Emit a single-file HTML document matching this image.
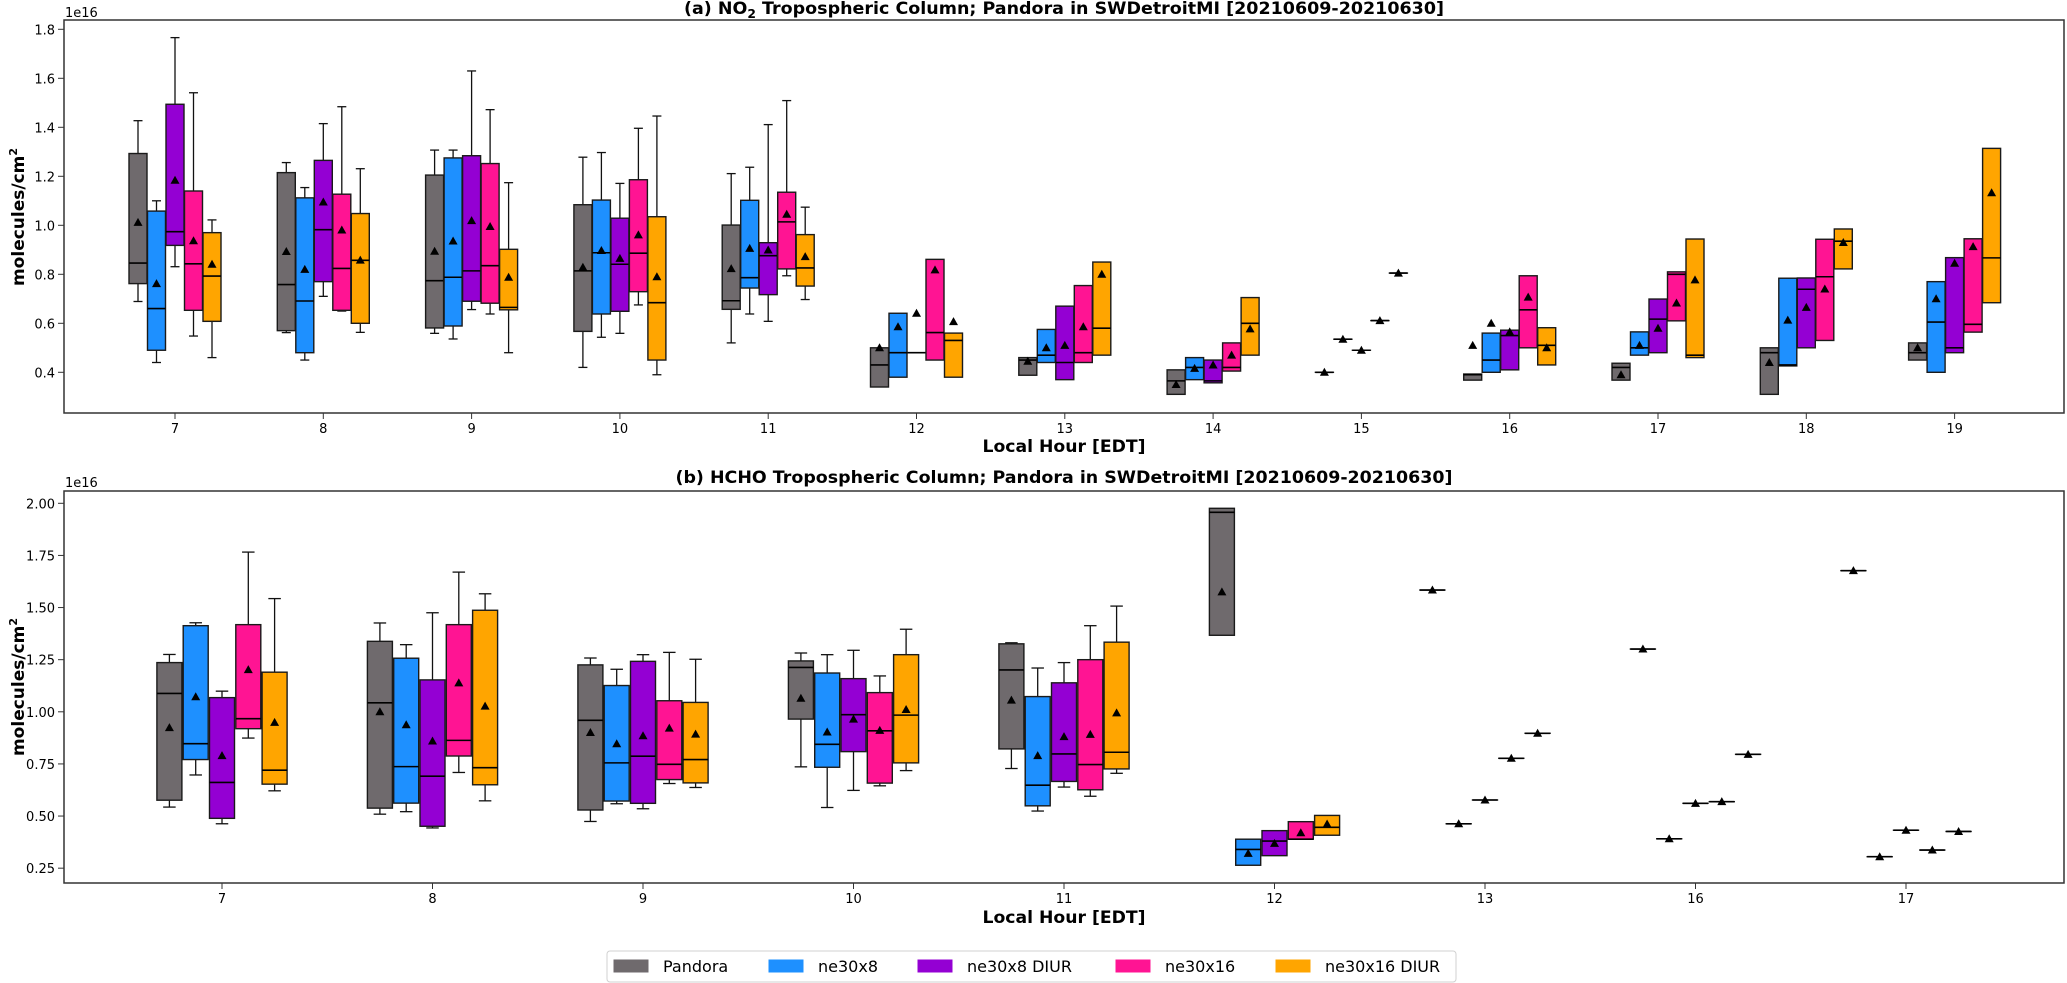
<!DOCTYPE html>
<html><head><meta charset="utf-8">
<style>
html,body{margin:0;padding:0;background:#fff;}
svg{display:block;font-family:"DejaVu Sans","Liberation Sans",sans-serif;}
</style></head>
<body>
<svg id="chart" width="2067" height="983" viewBox="0 0 2067 983" xmlns="http://www.w3.org/2000/svg">
  <rect x="0" y="0" width="2067" height="983" fill="#fff"/>
  <g id="panelA">
    <text x="1064" y="14" text-anchor="middle" font-size="17" font-weight="bold" textLength="760" lengthAdjust="spacingAndGlyphs">(a) NO<tspan font-size="12" dy="4">2</tspan><tspan dy="-4"> Tropospheric Column; Pandora in SWDetroitMI [20210609-20210630]</tspan></text>
    <text x="65" y="17" font-size="13">1e16</text>
    <text transform="translate(24,217) rotate(-90)" text-anchor="middle" font-size="17" font-weight="bold">molecules/cm<tspan font-size="11" dy="-7">2</tspan></text>
    <text x="1064" y="452" text-anchor="middle" font-size="17" font-weight="bold" textLength="163" lengthAdjust="spacingAndGlyphs">Local Hour [EDT]</text>
  </g>
  <g id="panelB">
    <text x="1064" y="483" text-anchor="middle" font-size="17" font-weight="bold" textLength="777" lengthAdjust="spacingAndGlyphs">(b) HCHO Tropospheric Column; Pandora in SWDetroitMI [20210609-20210630]</text>
    <text x="65" y="487" font-size="13">1e16</text>
    <text transform="translate(24,687) rotate(-90)" text-anchor="middle" font-size="17" font-weight="bold">molecules/cm<tspan font-size="11" dy="-7">2</tspan></text>
    <text x="1064" y="923" text-anchor="middle" font-size="17" font-weight="bold" textLength="163" lengthAdjust="spacingAndGlyphs">Local Hour [EDT]</text>
  </g>
  <g id="legend">
    <rect x="607" y="951" width="849" height="31" rx="3" fill="#fff" stroke="#d0d0d0" stroke-width="1"/>
  </g>
</svg>
<script>
// ---------- data ----------
const seriesNames = ["Pandora","ne30x8","ne30x8 DIUR","ne30x16","ne30x16 DIUR"];
const seriesColors = ["#6f6a6d","#1e90ff","#9400d3","#ff1493","#ffa500"];
// Panel (a) NO2: [whiskerLow, q1, median, q3, whiskerHigh, mean]
const no2Hours = [7,8,9,10,11,12,13,14,15,16,17,18,19];
const no2TickLabels = ["0.4","0.6","0.8","1.0","1.2","1.4","1.6","1.8"];
const no2TickValues = [0.4,0.6,0.8,1.0,1.2,1.4,1.6,1.8];
const no2Pandora = [[0.689,0.762,0.846,1.293,1.427,1.012],[0.562,0.570,0.758,1.215,1.256,0.893],[0.559,0.581,0.774,1.205,1.307,0.894],[0.42,0.567,0.814,1.084,1.278,0.829],[0.52,0.657,0.692,1.001,1.211,0.823],[0.34,0.34,0.43,0.50,0.50,0.50],[0.388,0.388,0.45,0.46,0.46,0.445],[0.31,0.31,0.365,0.41,0.41,0.35],[0.40,0.40,0.40,0.40,0.40,0.40],[0.368,0.368,0.39,0.393,0.393,0.51],[0.368,0.368,0.42,0.437,0.437,0.39],[0.31,0.31,0.48,0.50,0.50,0.44],[0.45,0.45,0.48,0.52,0.52,0.50]];
const no2Ne30x8 = [[0.44,0.49,0.66,1.058,1.10,0.762],[0.45,0.48,0.691,1.112,1.154,0.820],[0.536,0.589,0.788,1.275,1.307,0.936],[0.543,0.638,0.888,1.103,1.297,0.897],[0.638,0.744,0.786,1.102,1.237,0.906],[0.38,0.38,0.48,0.641,0.641,0.586],[0.44,0.44,0.47,0.575,0.575,0.50],[0.37,0.37,0.42,0.46,0.46,0.416],[0.535,0.535,0.535,0.535,0.535,0.535],[0.40,0.40,0.45,0.56,0.56,0.60],[0.47,0.47,0.50,0.565,0.565,0.51],[0.426,0.426,0.43,0.784,0.784,0.613],[0.40,0.40,0.605,0.77,0.77,0.70]];
const no2Ne30x8Diur = [[0.831,0.918,0.974,1.494,1.766,1.184],[0.710,0.770,0.982,1.265,1.415,1.095],[0.656,0.690,0.814,1.284,1.630,1.019],[0.559,0.649,0.841,1.029,1.171,0.865],[0.608,0.717,0.876,0.929,1.411,0.899],[0.48,0.48,0.48,0.48,0.48,0.641],[0.37,0.37,0.44,0.67,0.67,0.51],[0.357,0.357,0.365,0.45,0.45,0.43],[0.49,0.49,0.49,0.49,0.49,0.49],[0.41,0.41,0.55,0.572,0.572,0.565],[0.48,0.48,0.617,0.699,0.699,0.58],[0.50,0.50,0.739,0.785,0.785,0.665],[0.48,0.48,0.50,0.868,0.868,0.845]];
const no2Ne30x16 = [[0.548,0.653,0.843,1.14,1.541,0.937],[0.650,0.653,0.824,1.127,1.484,0.981],[0.638,0.682,0.835,1.252,1.472,0.995],[0.675,0.729,0.886,1.186,1.396,0.961],[0.794,0.822,1.014,1.135,1.509,1.045],[0.45,0.45,0.562,0.861,0.861,0.818],[0.44,0.44,0.48,0.754,0.754,0.586],[0.405,0.405,0.42,0.52,0.52,0.47],[0.611,0.611,0.611,0.611,0.611,0.611],[0.50,0.50,0.655,0.794,0.794,0.707],[0.61,0.61,0.80,0.81,0.81,0.683],[0.53,0.53,0.79,0.943,0.943,0.74],[0.564,0.564,0.596,0.945,0.945,0.913]];
const no2Ne30x16Diur = [[0.46,0.608,0.793,0.970,1.022,0.841],[0.563,0.600,0.857,1.048,1.231,0.858],[0.48,0.655,0.665,0.902,1.174,0.788],[0.39,0.45,0.684,1.035,1.446,0.790],[0.697,0.752,0.826,0.962,1.074,0.872],[0.38,0.38,0.53,0.56,0.56,0.607],[0.47,0.47,0.58,0.85,0.85,0.80],[0.47,0.47,0.60,0.705,0.705,0.577],[0.805,0.805,0.805,0.805,0.805,0.805],[0.43,0.43,0.51,0.582,0.582,0.50],[0.46,0.46,0.47,0.944,0.944,0.777],[0.822,0.822,0.935,0.985,0.985,0.93],[0.684,0.684,0.867,1.314,1.314,1.133]];
// Panel (b) HCHO
const hchoHours = ["7","8","9","10","11","12","13","16","17"];
const hchoTickLabels = ["0.25","0.50","0.75","1.00","1.25","1.50","1.75","2.00"];
const hchoTickValues = [0.25,0.5,0.75,1.0,1.25,1.5,1.75,2.0];
const hchoPandora = [[0.543,0.576,1.088,1.236,1.275,0.924],[0.509,0.538,1.043,1.338,1.426,1.0],[0.474,0.529,0.959,1.225,1.258,0.901],[0.736,0.965,1.213,1.244,1.282,1.065],[0.728,0.822,1.201,1.326,1.331,1.056],[1.367,1.367,1.957,1.976,1.976,1.575],[1.584,1.584,1.584,1.584,1.584,1.584],[1.301,1.301,1.301,1.301,1.301,1.301],[1.677,1.677,1.677,1.677,1.677,1.677]];
const hchoNe30x8 = [[0.697,0.771,0.847,1.413,1.427,1.072],[0.521,0.562,0.737,1.257,1.322,0.938],[0.559,0.572,0.755,1.126,1.204,0.847],[0.541,0.734,0.844,1.186,1.274,0.903],[0.524,0.549,0.648,1.073,1.210,0.790],[0.264,0.264,0.34,0.389,0.389,0.321],[0.463,0.463,0.463,0.463,0.463,0.463],[0.391,0.391,0.391,0.391,0.391,0.391],[0.305,0.305,0.305,0.305,0.305,0.305]];
const hchoNe30x8Diur = [[0.463,0.489,0.661,1.068,1.099,0.790],[0.443,0.451,0.691,1.153,1.475,0.860],[0.535,0.561,0.787,1.242,1.274,0.885],[0.623,0.809,0.986,1.159,1.295,0.965],[0.639,0.666,0.798,1.139,1.236,0.881],[0.31,0.31,0.38,0.43,0.43,0.369],[0.577,0.577,0.577,0.577,0.577,0.577],[0.561,0.561,0.561,0.561,0.561,0.561],[0.432,0.432,0.432,0.432,0.432,0.432]];
const hchoNe30x16 = [[0.874,0.919,0.967,1.418,1.766,1.202],[0.709,0.788,0.863,1.418,1.67,1.139],[0.656,0.675,0.748,1.053,1.285,0.922],[0.645,0.658,0.909,1.092,1.172,0.911],[0.595,0.626,0.747,1.25,1.413,0.892],[0.389,0.389,0.389,0.473,0.473,0.42],[0.777,0.777,0.777,0.777,0.777,0.777],[0.569,0.569,0.569,0.569,0.569,0.569],[0.337,0.337,0.337,0.337,0.337,0.337]];
const hchoNe30x16Diur = [[0.621,0.653,0.720,1.190,1.543,0.949],[0.573,0.650,0.732,1.487,1.566,1.027],[0.637,0.659,0.771,1.045,1.252,0.893],[0.718,0.755,0.984,1.274,1.396,1.011],[0.705,0.726,0.806,1.334,1.507,0.995],[0.408,0.408,0.446,0.503,0.503,0.462],[0.897,0.897,0.897,0.897,0.897,0.897],[0.796,0.796,0.796,0.796,0.796,0.796],[0.426,0.426,0.426,0.426,0.426,0.426]];

// ---------- drawing ----------
const NS = "http://www.w3.org/2000/svg";
function mk(parent, tag, attrs){
  const e = document.createElementNS(NS, tag);
  for (const k in attrs) e.setAttribute(k, attrs[k]);
  parent.appendChild(e);
  return e;
}
function drawPanel(g, cfg){
  const L=64, R=2064;
  // ticks
  cfg.tickValues.forEach((v,i)=>{
    const y = cfg.y(v);
    const t = mk(g,'line',{x1:L-6,x2:L,y1:y,y2:y,stroke:'#333','stroke-width':1});
    
    
    const tx = mk(g,'text',{x:L-9,y:y+5,'text-anchor':'end','font-size':13,fill:'#000'});
    tx.textContent = cfg.tickLabels[i];
    
    
  });
  cfg.cats.forEach((c,i)=>{
    const x = cfg.x(i);
    const t = mk(g,'line',{x1:x,x2:x,y1:cfg.bottom,y2:cfg.bottom+6,stroke:'#333','stroke-width':1});
    
    
    const tx = mk(g,'text',{x:x,y:cfg.bottom+20,'text-anchor':'middle','font-size':13,fill:'#000'});
    tx.textContent = String(c);
    
    
  });
  // boxes
  cfg.series.forEach((data,s)=>{
    const sg = mk(g,'g',{});
    
    
    data.forEach((d,i)=>{
      const cx = cfg.x(i) + (s-2)*cfg.step;
      const w = cfg.w, hw=w/2, cw=w/4;
      const [wl,q1,md,q3,wh,mn] = d;
      const yq1=cfg.y(q1), yq3=cfg.y(q3);
      const bg = mk(sg,'g',{});
      
      
      if (wh>q3){
        mk(bg,'line',{x1:cx,x2:cx,y1:yq3,y2:cfg.y(wh),stroke:'#111','stroke-width':1.3});
        mk(bg,'line',{x1:cx-cw,x2:cx+cw,y1:cfg.y(wh),y2:cfg.y(wh),stroke:'#111','stroke-width':1.3});
      }
      if (wl<q1){
        mk(bg,'line',{x1:cx,x2:cx,y1:yq1,y2:cfg.y(wl),stroke:'#111','stroke-width':1.3});
        mk(bg,'line',{x1:cx-cw,x2:cx+cw,y1:cfg.y(wl),y2:cfg.y(wl),stroke:'#111','stroke-width':1.3});
      }
      mk(bg,'rect',{x:cx-hw,y:yq3,width:w,height:Math.max(yq1-yq3,0.01),fill:seriesColors[s],stroke:'#1a1a1a','stroke-width':1.4});
      mk(bg,'line',{x1:cx-hw,x2:cx+hw,y1:cfg.y(md),y2:cfg.y(md),stroke:'#000','stroke-width':1.6});
      const my = cfg.y(mn);
      mk(bg,'polygon',{points:`${cx},${my-4.5} ${cx-4.5},${my+3.5} ${cx+4.5},${my+3.5}`,fill:'#000'});
    });
  });
  // frame
  const f = mk(g,'rect',{x:L,y:cfg.top,width:R-L,height:cfg.bottom-cfg.top,fill:'none',stroke:'#333','stroke-width':1.5});
  
  
}
const yA = v => 323.3 - (v-0.6)*245;
const xA = i => 175 + (no2Hours[i]-7)*148.3;
drawPanel(document.getElementById('panelA'),{
  cats:no2Hours, x:xA, y:yA, top:20, bottom:413, step:18.5, w:18,
  tickValues:no2TickValues, tickLabels:no2TickLabels,
  series:[no2Pandora,no2Ne30x8,no2Ne30x8Diur,no2Ne30x16,no2Ne30x16Diur]
});
const yB = v => 503.3 + (2.0-v)*208.5;
const xB = i => 222 + i*210.5;
drawPanel(document.getElementById('panelB'),{
  cats:hchoHours, x:xB, y:yB, top:491, bottom:883, step:26.3, w:25,
  tickValues:hchoTickValues, tickLabels:hchoTickLabels,
  series:[hchoPandora,hchoNe30x8,hchoNe30x8Diur,hchoNe30x16,hchoNe30x16Diur]
});
// legend
const legendPatchX = [614,769,918,1116,1276];
const lg = document.getElementById('legend');
seriesNames.forEach((n,i)=>{
  const eg = mk(lg,'g',{});
  
  
  mk(eg,'rect',{x:legendPatchX[i],y:960,width:34,height:12,fill:seriesColors[i],stroke:seriesColors[i],'stroke-width':1});
  const t = mk(eg,'text',{x:legendPatchX[i]+49,y:972,'font-size':16,fill:'#000'});
  t.textContent = n;
});
</script>
</body></html>
